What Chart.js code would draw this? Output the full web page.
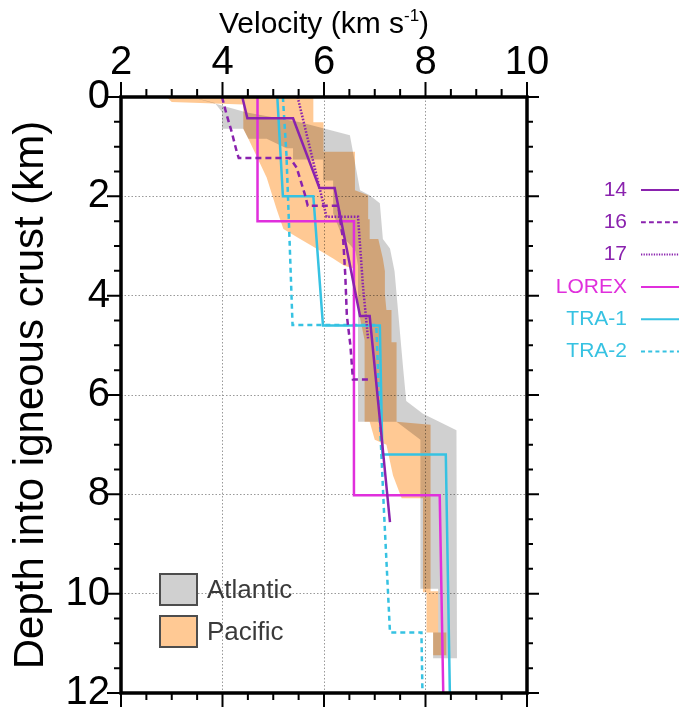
<!DOCTYPE html>
<html>
<head>
<meta charset="utf-8">
<title>Velocity profiles</title>
<script src="https://cdn.jsdelivr.net/npm/chart.js@4.4.1/dist/chart.umd.min.js"></script>
<style>
  html, body { margin: 0; padding: 0; background: #fff; }
  #wrap { width: 679px; height: 728px; }
</style>
</head>
<body>
<div id="wrap"><canvas id="vel" width="679" height="728"></canvas></div>
<script>
// ── Axis ticks ────────────────────────────────────────
const velTicks = [2, 4, 6, 8, 10];
const depthTicks = [0, 2, 4, 6, 8, 10, 12];

// ── Envelopes: outline of each band, velocity (km/s) vs depth (km) ──
const atlanticVel = [3.40, 3.56, 4.48, 5.53, 6.51, 6.57, 6.71, 6.90, 7.10, 7.16, 7.30, 7.39, 7.43, 7.56, 7.62, 7.95, 8.35, 8.61, 8.62,
  8.15, 8.15, 8.25, 8.25, 7.90, 7.90, 7.43, 6.67, 6.67, 6.62, 6.35, 6.18, 6.18, 5.98, 5.98, 5.39, 5.39, 5.26, 4.87, 4.51, 4.41, 3.99, 3.99, 3.85];
const atlanticDepth = [0.00, 0.05, 0.31, 0.51, 0.77, 1.10, 1.88, 1.98, 2.14, 2.86, 3.05, 3.51, 3.97, 5.47, 6.12, 6.38, 6.58, 6.71, 11.30,
  11.30, 10.78, 10.78, 9.90, 9.90, 6.90, 6.54, 6.54, 3.40, 3.10, 2.79, 2.34, 1.68, 1.68, 1.26, 1.26, 1.03, 1.03, 0.84, 0.84, 0.64, 0.64, 0.30, 0.12];

const pacificVel = [2.90, 5.79, 5.79, 5.99, 5.99, 6.61, 6.61, 6.87, 6.87, 6.90, 6.90, 7.07, 7.16, 7.20, 7.20, 7.23, 7.33, 7.33, 7.43, 7.43,
  8.10, 8.10, 8.25, 8.25, 8.41, 8.41, 8.15, 8.15, 8.02, 8.02, 7.95, 7.95, 7.53, 7.36, 7.23, 7.00, 6.90, 6.80, 6.80, 6.62, 6.57, 6.40,
  6.18, 5.85, 5.53, 5.20, 5.07, 4.87, 4.51, 4.41, 4.41, 3.00];
const pacificDepth = [0.00, 0.00, 0.51, 0.51, 1.10, 1.10, 1.88, 1.98, 2.46, 2.46, 2.86, 2.86, 3.25, 3.51, 3.97, 4.29, 4.29, 4.94, 4.94, 6.54,
  6.60, 9.95, 9.95, 10.78, 10.78, 11.24, 11.24, 10.78, 10.78, 9.97, 9.97, 8.08, 8.08, 7.62, 7.00, 6.90, 6.54, 6.54, 4.90, 4.00, 3.45, 3.40,
  3.25, 3.05, 2.86, 2.66, 2.27, 1.62, 0.84, 0.64, 0.15, 0.10];

// ── Individual profiles ───────────────────────────────
const vel14 = [4.39, 4.49, 5.39, 5.91, 6.21, 6.71, 6.90, 7.30];
const depth14 = [0.00, 0.43, 0.43, 1.83, 1.83, 4.41, 4.41, 8.56];

const vel16 = [3.99, 4.08, 4.18, 4.28, 4.32, 5.33, 5.46, 5.62, 5.68, 6.28, 6.38, 6.42, 6.45, 6.52, 6.57, 6.89];
const depth16 = [0.00, 0.35, 0.70, 1.10, 1.23, 1.23, 1.42, 1.95, 2.19, 2.19, 2.90, 3.60, 4.40, 5.00, 5.69, 5.69];

const vel17 = [5.48, 6.05, 6.67, 6.77, 6.87];
const depth17 = [0.00, 2.41, 2.41, 3.84, 4.88];

const velLorex = [4.69, 4.69, 6.59, 6.59, 8.28, 8.35];
const depthLorex = [0.00, 2.50, 2.50, 8.02, 8.02, 12.00];

const velTra1 = [5.08, 5.19, 5.79, 5.98, 7.10, 7.15, 8.40, 8.48];
const depthTra1 = [0.00, 2.00, 2.00, 4.60, 4.60, 7.20, 7.20, 12.00];

const velTra2 = [5.19, 5.26, 5.30, 5.38, 7.03, 7.10, 7.18, 7.30, 7.92, 7.94];
const depthTra2 = [0.00, 1.16, 2.27, 4.59, 4.59, 6.50, 8.30, 10.78, 10.78, 12.00];

const profileNames = ['14', '16', '17', 'LOREX', 'TRA-1', 'TRA-2'];
const bandNames = ['Atlantic', 'Pacific'];

// ── Styles ────────────────────────────────────────────
const FONT = '"Liberation Sans", Arial, Helvetica, sans-serif';
const PURPLE = '#8A22AE';
const MAGENTA = '#E02FDC';
const CYAN = '#36C2E2';
const GRAY_FILL = '#D0D0D0';
const ORANGE_FILL = '#FFC994';

const pts = (xs, ys) => xs.map((x, i) => ({ x, y: ys[i] }));

function band(label, xs, ys, color, order) {
  return {
    label, data: pts(xs, ys), showLine: true, fill: 'shape',
    backgroundColor: color, borderWidth: 0, pointRadius: 0, tension: 0, order
  };
}

function profile(label, xs, ys, color, dash) {
  return {
    label, data: pts(xs, ys), showLine: true, fill: false,
    borderColor: color, borderWidth: 2.5, borderDash: dash,
    pointRadius: 0, tension: 0, order: 0
  };
}

const datasets = [
  band(bandNames[0], atlanticVel, atlanticDepth, GRAY_FILL, 2),
  band(bandNames[1], pacificVel, pacificDepth, ORANGE_FILL, 1),
  profile(profileNames[0], vel14, depth14, PURPLE, []),
  profile(profileNames[1], vel16, depth16, PURPLE, [6, 4]),
  profile(profileNames[2], vel17, depth17, PURPLE, [1.6, 1.6]),
  profile(profileNames[3], velLorex, depthLorex, MAGENTA, []),
  profile(profileNames[4], velTra1, depthTra1, CYAN, []),
  profile(profileNames[5], velTra2, depthTra2, CYAN, [5, 4])
];

const gridColor = (ticks, lo, hi) => (c) =>
  (c.tick && ticks.includes(c.tick.value) && c.tick.value !== lo && c.tick.value !== hi)
    ? '#999999' : 'rgba(0,0,0,0)';

// bands are multiplied so the overlap darkens; frame, ticks and legends drawn by hand
const decor = {
  id: 'decor',
  beforeDraw(chart) {
    const ctx = chart.ctx;
    ctx.save();
    ctx.fillStyle = '#fff';
    ctx.fillRect(0, 0, chart.width, chart.height);
    ctx.restore();
  },
  beforeDatasetsDraw(chart) {
    chart.ctx.globalCompositeOperation = 'multiply';
  },
  afterDatasetDraw(chart, args) {
    if (args.index === 1) chart.ctx.globalCompositeOperation = 'source-over';
  },
  afterDraw(chart) {
    const ctx = chart.ctx;
    const { left, right, top, bottom } = chart.chartArea;
    const xs = chart.scales.x, ys = chart.scales.y;
    ctx.save();
    ctx.globalCompositeOperation = 'source-over';
    ctx.strokeStyle = '#000';

    // tick marks on all four sides
    ctx.lineWidth = 2;
    ctx.beginPath();
    xs.ticks.forEach(t => {
      const p = xs.getPixelForValue(t.value);
      const major = velTicks.includes(t.value);
      ctx.moveTo(p, top); ctx.lineTo(p, top - (major ? 15 : 8));
      ctx.moveTo(p, bottom); ctx.lineTo(p, bottom + (major ? 14 : 7));
    });
    ys.ticks.forEach(t => {
      const p = ys.getPixelForValue(t.value);
      const major = depthTicks.includes(t.value);
      ctx.moveTo(left, p); ctx.lineTo(left - (major ? 14 : 7), p);
      ctx.moveTo(right, p); ctx.lineTo(right + (major ? 12 : 6), p);
    });
    ctx.stroke();

    // frame
    ctx.lineWidth = 3.5;
    ctx.strokeRect(left, top, right - left, bottom - top);

    // axis title with superscript
    const main = 'Velocity (km s', sup = '-1', close = ')';
    ctx.fillStyle = '#000';
    ctx.textBaseline = 'alphabetic';
    ctx.font = '30px ' + FONT;
    const wMain = ctx.measureText(main).width;
    const wClose = ctx.measureText(close).width;
    ctx.font = '17px ' + FONT;
    const wSup = ctx.measureText(sup).width;
    let x = (left + right) / 2 - (wMain + wSup + wClose) / 2;
    const base = 33;
    ctx.font = '30px ' + FONT;
    ctx.fillText(main, x, base);
    x += wMain;
    ctx.font = '17px ' + FONT;
    ctx.fillText(sup, x, base - 12);
    x += wSup;
    ctx.font = '30px ' + FONT;
    ctx.fillText(close, x, base);

    // profile legend to the right of the frame
    ctx.font = '21px ' + FONT;
    ctx.textAlign = 'right';
    ctx.textBaseline = 'middle';
    profileNames.forEach((name, i) => {
      const ds = chart.data.datasets[i + 2];
      const y = 190 + i * 32.3;
      ctx.fillStyle = ds.borderColor;
      ctx.fillText(name, 627, y);
      ctx.strokeStyle = ds.borderColor;
      ctx.lineWidth = 2;
      ctx.setLineDash(ds.borderDash.length ? ds.borderDash.map(v => v * 0.8) : []);
      ctx.beginPath();
      ctx.moveTo(641, y); ctx.lineTo(679, y);
      ctx.stroke();
    });
    ctx.setLineDash([]);

    // band legend inside the frame
    ctx.textAlign = 'left';
    ctx.font = '26px ' + FONT;
    bandNames.forEach((name, i) => {
      const y = 574 + i * 42;
      ctx.fillStyle = chart.data.datasets[i].backgroundColor;
      ctx.fillRect(160, y, 37, 31);
      ctx.strokeStyle = '#4d4d4d';
      ctx.lineWidth = 2;
      ctx.strokeRect(160, y, 37, 31);
      ctx.fillStyle = '#3a3a3a';
      ctx.fillText(name, 207, y + 17);
    });
    ctx.restore();
  }
};

new Chart(document.getElementById('vel'), {
  type: 'scatter',
  data: { datasets },
  options: {
    responsive: false,
    devicePixelRatio: 1,
    animation: false,
    layout: { padding: { left: 0, top: 0, right: 152, bottom: 18.5 } },
    plugins: { legend: { display: false }, tooltip: { enabled: false } },
    scales: {
      x: {
        type: 'linear', position: 'top', min: 2, max: 10,
        afterFit: (s) => { s.height = 97; },
        ticks: {
          stepSize: 0.5, autoSkip: false, maxRotation: 0, minRotation: 0, padding: 10,
          color: '#000', font: { family: FONT, size: 40 },
          callback: (v) => velTicks.includes(v) ? String(v) : ''
        },
        grid: { drawTicks: false, lineWidth: 1, color: gridColor(velTicks, 2, 10) },
        border: { display: false, dash: [1.5, 2] }
      },
      y: {
        type: 'linear', position: 'left', min: 0, max: 12, reverse: true,
        afterFit: (s) => { s.width = 121; },
        title: {
          display: true, text: 'Depth into igneous crust (km)', color: '#000',
          font: { family: FONT, size: 42 }, padding: { top: 6, bottom: 0 }
        },
        ticks: {
          stepSize: 0.5, autoSkip: false, padding: 11,
          color: '#000', font: { family: FONT, size: 40 },
          callback: (v) => depthTicks.includes(v) ? String(v) : ''
        },
        grid: { drawTicks: false, lineWidth: 1, color: gridColor(depthTicks, 0, 12) },
        border: { display: false, dash: [1.5, 2] }
      }
    }
  },
  plugins: [decor]
});
</script>
</body>
</html>
